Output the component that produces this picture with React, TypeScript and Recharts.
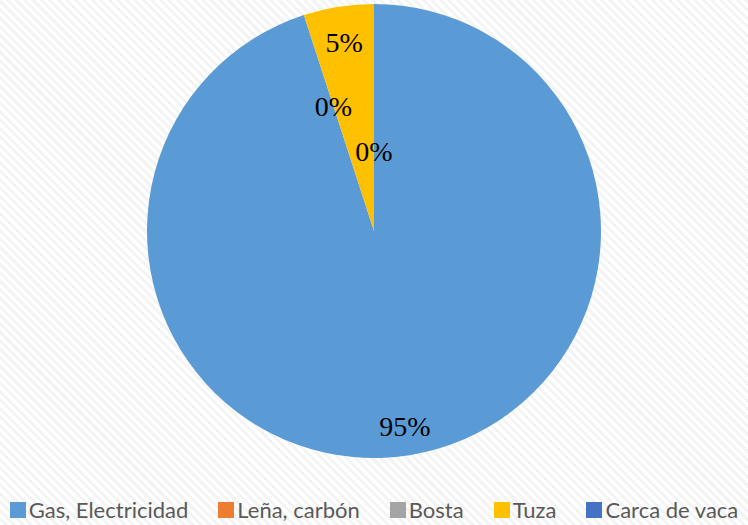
import React from 'react';
import { PieChart, Pie, Cell, Legend } from 'recharts';

const categories = ['Gas, Electricidad', 'Leña, carbón', 'Bosta', 'Tuza', 'Carca de vaca'];
const shares = [95, 0, 0, 5, 0];
const colors = ['#5B9BD5', '#ED7D31', '#A5A5A5', '#FFC000', '#4472C4'];

// where Excel put each data label (distance from the centre); null = no label drawn
const labelRadius: (number | null)[] = [198, 131, null, 191, 80];

const data = categories.map((name, i) => ({ name, value: shares[i] }));

const RAD = Math.PI / 180;

const renderLabel = (props: any) => {
  const { cx, cy, midAngle, index, percent } = props;
  const r = labelRadius[index];
  if (r == null) return null;
  const x = cx + r * Math.cos(-midAngle * RAD);
  const y = cy + r * Math.sin(-midAngle * RAD);
  return (
    <text
      x={x}
      y={y}
      fill="#000"
      textAnchor="middle"
      dominantBaseline="central"
      fontFamily="'Liberation Serif', 'Times New Roman', serif"
      fontSize={28}
    >
      {`${Math.round(percent * 100)}%`}
    </text>
  );
};

const LegendContent = () => (
  <div
    style={{
      display: 'flex',
      justifyContent: 'center',
      alignItems: 'center',
      fontFamily: 'Lato, sans-serif',
      fontSize: 22,
      color: '#595959',
      whiteSpace: 'nowrap',
    }}
  >
    {categories.map((c, i) => (
      <div key={c} style={{ display: 'flex', alignItems: 'center', marginLeft: i === 0 ? 0 : 30 }}>
        <span style={{ width: 16, height: 16, background: colors[i], marginRight: 3, display: 'inline-block' }} />
        <span>{c}</span>
      </div>
    ))}
  </div>
);

export default function App() {
  return (
    <div
      style={{
        position: 'absolute',
        left: 0,
        top: 0,
        width: 748,
        height: 525,
        background: 'repeating-linear-gradient(45deg, #ffffff 0px, #ffffff 3px, #f4f4f4 3px, #f4f4f4 6px)',
      }}
    >
      <PieChart width={748} height={525} margin={{ top: 0, right: 0, bottom: 0, left: 0 }}>
        <Pie
          data={data}
          dataKey="value"
          nameKey="name"
          cx={374}
          cy={231}
          outerRadius={227}
          startAngle={90}
          endAngle={-270}
          stroke="none"
          label={renderLabel}
          labelLine={false}
          isAnimationActive={false}
        >
          {data.map((d, i) => (
            <Cell key={d.name} fill={colors[i]} />
          ))}
        </Pie>
        <Legend
          content={<LegendContent />}
          wrapperStyle={{ top: 496, left: 0, width: 748 }}
        />
      </PieChart>
    </div>
  );
}
